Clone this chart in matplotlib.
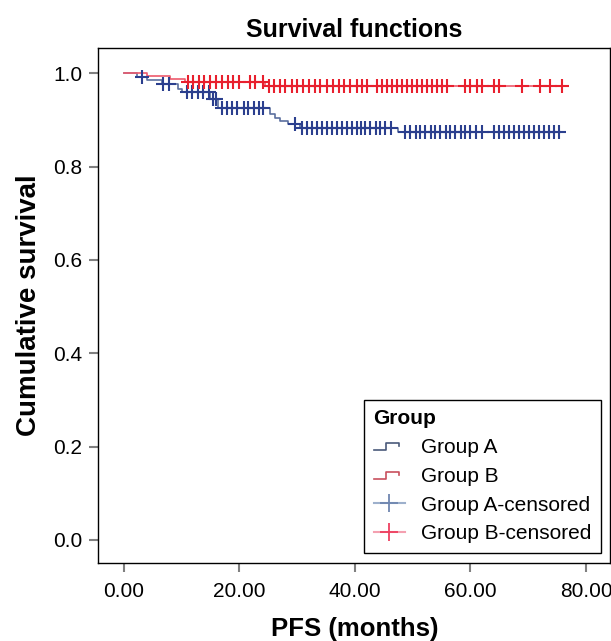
import numpy as np
import matplotlib
matplotlib.use("Agg")
import matplotlib.pyplot as plt
from matplotlib.legend_handler import HandlerBase
from matplotlib.lines import Line2D

plt.rcParams['font.family'] = ['Liberation Sans', 'DejaVu Sans']

# Group A: step times (months) and survival after each step
a_times = [0.0, 2.3, 4.1, 6.6, 9.5, 10.1, 15.0, 16.4, 25.3, 26.2, 27.1, 28.5, 30.6, 47.5]
a_surv = [1.0, 0.993, 0.985, 0.978, 0.967, 0.960, 0.944, 0.926, 0.912, 0.905, 0.897, 0.891, 0.882, 0.875]
a_end = 75.6
a_cens = [3.2, 6.9, 7.8, 11.0, 11.8, 12.8, 13.8, 14.7, 15.4, 16.0, 17.0, 17.9, 18.8,
          19.7, 20.8, 21.6, 22.5, 23.4, 24.2, 29.6, 30.9, 31.7, 32.6, 33.5, 34.3,
          35.2, 36.1, 36.9, 37.8, 38.7, 39.5, 40.4, 41.0, 41.8, 42.7, 43.6, 44.4,
          45.3, 46.2, 48.7, 49.6, 50.5, 51.3, 52.2, 53.1, 53.9, 54.8, 55.7, 56.5,
          57.4, 58.3, 59.1, 60.0, 60.9, 62.0, 64.0, 64.9, 65.8, 66.6, 67.5, 68.4,
          69.2, 70.1, 71.0, 71.8, 72.7, 73.6, 74.4, 75.3]

# Group B
b_times = [0.0, 4.1, 8.1, 10.7, 24.5]
b_surv = [1.0, 0.994, 0.987, 0.981, 0.973]
b_end = 75.9
b_cens = [11.1, 12.0, 13.0, 13.9, 15.0, 16.0, 17.0, 18.0, 18.9, 19.9, 21.9, 22.8,
          24.1, 25.1, 26.0, 27.1, 28.0, 29.1, 30.0, 31.1, 32.0, 33.2, 34.0, 35.2,
          36.3, 37.2, 38.2, 39.2, 40.4, 41.3, 42.1, 43.9, 44.7, 45.6, 46.4, 47.3,
          48.2, 49.0, 49.9, 50.8, 51.6, 52.5, 53.4, 54.2, 55.1, 56.0, 59.1, 60.0,
          61.1, 62.0, 64.0, 64.9, 68.9, 72.1, 73.8, 75.9]

x_ticks = [0, 20, 40, 60, 80]
y_ticks = [0.0, 0.2, 0.4, 0.6, 0.8, 1.0]

A_LINE = '#5b6f9e'
A_MARK = '#2b3f8e'
B_LINE = '#ee5a6c'
B_MARK = '#e8202e'


def surv_at(t, times, surv):
    idx = np.searchsorted(times, t, side='right') - 1
    return np.array(surv)[idx]


class StepHandler(HandlerBase):
    def __init__(self, color):
        super().__init__()
        self.color = color

    def create_artists(self, legend, orig_handle, xdescent, ydescent, width, height, fontsize, trans):
        x = np.array([0.0, 0.4, 0.4, 0.8, 0.8]) * width - xdescent
        y = np.array([0.2, 0.2, 0.7, 0.7, 0.5]) * height - ydescent
        ln = Line2D(x, y, color=self.color, lw=1.2, transform=trans)
        return [ln]


fig = plt.figure(figsize=(6.11, 6.41), dpi=100)
ax = fig.add_axes([0.161, 0.122, 0.838, 0.803])

ax.step(a_times + [a_end], a_surv + [a_surv[-1]], where='post', color=A_LINE, lw=1.2)
ax.step(b_times + [b_end], b_surv + [b_surv[-1]], where='post', color=B_LINE, lw=1.2)
ax.plot(a_cens, surv_at(a_cens, a_times, a_surv), ls='none', marker='+',
        ms=10, mew=1.5, color=A_MARK)
ax.plot(b_cens, surv_at(b_cens, b_times, b_surv), ls='none', marker='+',
        ms=10, mew=1.5, color=B_MARK)

ax.set_xlim(-4.35, 84.2)
ax.set_ylim(-0.049, 1.054)
ax.set_xticks(x_ticks)
ax.set_xticklabels([f'{v:.2f}' for v in x_ticks])
ax.set_yticks(y_ticks)
ax.set_yticklabels([f'{v:.1f}' for v in y_ticks])
ax.tick_params(length=6.5, width=1.5, color='#808080', labelsize=15, pad=5)
ax.tick_params(axis='x', pad=7.5)
for s in ax.spines.values():
    s.set_linewidth(1.0)

ax.set_title('Survival functions', fontsize=18, fontweight='bold', pad=8)
ax.set_xlabel('PFS (months)', fontsize=18.5, fontweight='bold', labelpad=11)
ax.set_ylabel('Cumulative survival', fontsize=20, fontweight='bold', labelpad=8)

hA = Line2D([], [], color='#4a5a7a')
hB = Line2D([], [], color='#c8505e')
hAc = Line2D([], [], ls='-', color='#9db0cc', marker='+', ms=13, mew=1.3, mec='#6f86b0')
hBc = Line2D([], [], ls='-', color='#f4a0b0', marker='+', ms=13, mew=1.3, mec='#ee4060')
leg = ax.legend([hA, hB, hAc, hBc],
                ['Group A', 'Group B', 'Group A-censored', 'Group B-censored'],
                handler_map={hA: StepHandler('#4a5a7a'), hB: StepHandler('#c8505e')},
                title='Group', loc='lower right', bbox_to_anchor=(0.982, 0.0195),
                fontsize=15, title_fontproperties={'weight': 'bold', 'size': 15},
                fancybox=False, edgecolor='black', framealpha=1,
                handlelength=1.5, handletextpad=0.8, labelspacing=0.47,
                borderpad=0.45, borderaxespad=0, alignment='left')
leg.get_frame().set_linewidth(1.0)

fig.savefig('out.png', dpi=100)
